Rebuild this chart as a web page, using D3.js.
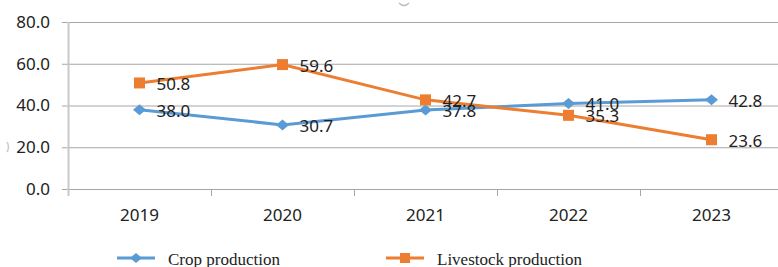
<!DOCTYPE html>
<html>
<head>
<meta charset="utf-8">
<script src="https://cdn.jsdelivr.net/npm/d3@7"></script>
<style>
  body { margin: 0; background: #fff; }
  svg { display: block; }
</style>
</head>
<body>
<script>
var years = ['2019', '2020', '2021', '2022', '2023'];
var crop = [38.0, 30.7, 37.8, 41.0, 42.8];
var livestock = [50.8, 59.6, 42.7, 35.3, 23.6];
var yTicks = [0, 20, 40, 60, 80];

var width = 778, height = 267;
var blue = '#5b9bd5', orange = '#ed7d31';

var svg = d3.select('body').append('svg')
   .attr('width', width)
   .attr('height', height);

var x = d3.scaleBand().domain(years).range([68, 783]);
var y = d3.scaleLinear().domain([0, 80]).range([189, 22]);

// wide excel-style diamond
var diamond = function(w, h) {
  return 'M0,' + (-h / 2) + 'L' + (w / 2) + ',0L0,' + (h / 2) + 'L' + (-w / 2) + ',0Z';
};
var square = function(s) {
  return 'M' + (-s / 2) + ',' + (-s / 2) + 'h' + s + 'v' + s + 'h' + (-s) + 'Z';
};

// gridlines + y labels
var yAxis = d3.axisLeft(y).tickValues(yTicks).tickSize(-(783 - 62)).tickFormat(d3.format('.1f'));
var gy = svg.append('g').attr('transform', 'translate(62,0)').call(yAxis);
gy.select('.domain').remove();
gy.selectAll('.tick line').attr('stroke', '#a6a6a6').attr('stroke-width', 1);
gy.selectAll('.tick text')
   .attr('x', -12)
   .attr('font-family', 'Noto Sans, sans-serif')
   .attr('font-size', 17)
   .attr('fill', '#222');

// left axis line
svg.append('line')
   .attr('x1', 68.5).attr('x2', 68.5)
   .attr('y1', 22).attr('y2', 196)
   .attr('stroke', '#c8c8c8').attr('stroke-width', 2);

// bottom axis ticks at band boundaries
svg.append('g').selectAll('line')
   .data(years.slice(1))
   .join('line')
   .attr('x1', function(d) { return Math.round(x(d)) + 0.5; })
   .attr('x2', function(d) { return Math.round(x(d)) + 0.5; })
   .attr('y1', 189).attr('y2', 196)
   .attr('stroke', '#a6a6a6');

svg.append('g').selectAll('text')
   .data(years)
   .join('text')
   .attr('x', function(d) { return x(d) + x.bandwidth() / 2; })
   .attr('y', 221)
   .attr('text-anchor', 'middle')
   .attr('font-family', 'Noto Sans, sans-serif')
   .attr('font-size', 17)
   .attr('fill', '#222')
   .text(function(d) { return d; });

function cx(i) { return x(years[i]) + x.bandwidth() / 2; }

var line = d3.line()
   .x(function(d, i) { return cx(i); })
   .y(function(d) { return y(d); });

var series = [
  {values: crop, color: blue, marker: diamond(13, 11)},
  {values: livestock, color: orange, marker: square(11)}
];

series.forEach(function(s) {
  svg.append('path')
     .datum(s.values)
     .attr('d', line)
     .attr('fill', 'none')
     .attr('stroke', s.color)
     .attr('stroke-width', 3);
  svg.append('g').selectAll('path')
     .data(s.values)
     .join('path')
     .attr('transform', function(d, i) { return 'translate(' + cx(i) + ',' + y(d) + ')'; })
     .attr('d', s.marker)
     .attr('fill', s.color);
});

series.forEach(function(s) {
  svg.append('g').selectAll('text')
     .data(s.values)
     .join('text')
     .attr('x', function(d, i) { return cx(i) + 17; })
     .attr('y', function(d) { return y(d) + 7; })
     .attr('font-family', 'Noto Sans, sans-serif')
     .attr('font-size', 17)
     .attr('fill', '#222')
     .text(function(d) { return d.toFixed(1); });
});

// legend
var legend = [
  {name: 'Crop production', color: blue, marker: diamond(12, 10), x: 117},
  {name: 'Livestock production', color: orange, marker: square(10), x: 386}
];
var lg = svg.append('g').selectAll('g')
   .data(legend)
   .join('g')
   .attr('transform', function(d) { return 'translate(' + d.x + ',258)'; });
lg.append('line')
   .attr('x1', 0).attr('x2', 38)
   .attr('stroke', function(d) { return d.color; })
   .attr('stroke-width', 3);
lg.append('path')
   .attr('transform', 'translate(19,0)')
   .attr('d', function(d) { return d.marker; })
   .attr('fill', function(d) { return d.color; });
lg.append('text')
   .attr('x', 51)
   .attr('y', 7)
   .attr('font-family', 'Liberation Serif, Times New Roman, serif')
   .attr('font-size', 17)
   .attr('fill', '#222')
   .text(function(d) { return d.name; });

// stray marks at the cropped edges
svg.append('path')
   .attr('d', 'M399,3 Q404,8 409,3')
   .attr('fill', 'none')
   .attr('stroke', '#bbb')
   .attr('stroke-width', 1.5);
svg.append('path')
   .attr('d', 'M7,142 Q10,147 7,152')
   .attr('fill', 'none')
   .attr('stroke', '#ccc')
   .attr('stroke-width', 1.5);
</script>
</body>
</html>
